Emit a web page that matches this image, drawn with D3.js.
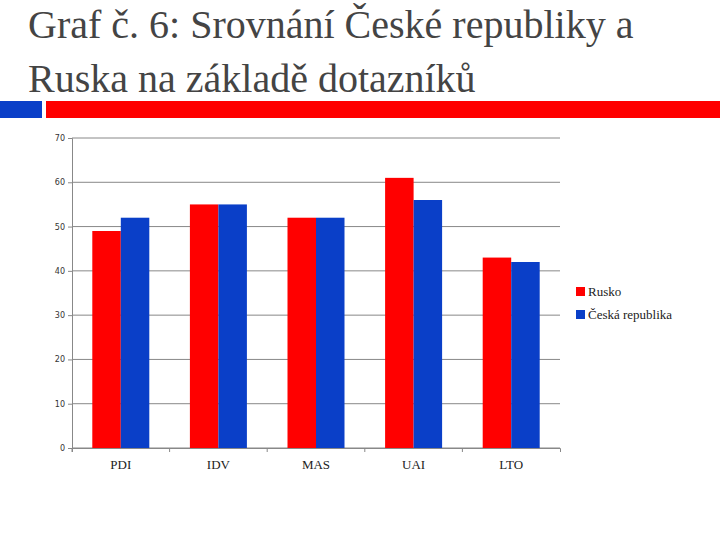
<!DOCTYPE html>
<html><head><meta charset="utf-8">
<script src="https://cdn.jsdelivr.net/npm/d3@7"></script>
<style>body{margin:0;background:#fff}</style>
</head><body>
<svg id="c" width="720" height="540"></svg>
<script>
// data
const categories = ['PDI', 'IDV', 'MAS', 'UAI', 'LTO'];
const rusko = [49, 55, 52, 61, 43];
const cesko = [52, 55, 52, 56, 42];
const series = [
  {name: 'Rusko', values: rusko, color: '#ff0000'},
  {name: 'Česká republika', values: cesko, color: '#0a3fc8'}
];
const yTicks = [0, 10, 20, 30, 40, 50, 60, 70];

const svg = d3.select('#c');

// title
svg.append('text').attr('x', 28).attr('y', 38)
  .attr('font-family', 'Liberation Serif').attr('font-size', 40).attr('fill', '#444')
  .text('Graf č. 6: Srovnání České republiky a');
svg.append('text').attr('x', 28).attr('y', 92)
  .attr('font-family', 'Liberation Serif').attr('font-size', 40).attr('fill', '#444')
  .text('Ruska na základě dotazníků');

// decorative bars
svg.append('rect').attr('x', 0).attr('y', 101).attr('width', 42).attr('height', 17).attr('fill', '#0a3fc8');
svg.append('rect').attr('x', 46).attr('y', 101).attr('width', 674).attr('height', 17).attr('fill', '#ff0000');

const x = d3.scaleBand().domain(categories).range([72, 560]);
const y = d3.scaleLinear().domain([0, 70]).range([448, 138]);

// grid
svg.append('g').selectAll('line').data(yTicks).join('line')
  .attr('x1', 72).attr('x2', 560)
  .attr('y1', d => y(d)).attr('y2', d => y(d))
  .attr('stroke', '#888').attr('stroke-width', 1);

// y axis
const ya = svg.append('g').attr('transform', 'translate(72,0)')
  .call(d3.axisLeft(y).tickValues(yTicks).tickSize(4).tickPadding(3));
ya.select('.domain').attr('stroke', '#888');
ya.selectAll('.tick line').attr('stroke', '#888');
ya.selectAll('text').attr('font-family', 'DejaVu Sans').attr('font-size', 8).attr('fill', '#333');

// bars
const bw = 28.5;
const off = x.bandwidth() / 2 - bw;
series.forEach((s, si) => {
  svg.append('g').selectAll('rect').data(s.values).join('rect')
    .attr('x', (d, i) => x(categories[i]) + off + si * bw)
    .attr('y', d => y(d))
    .attr('width', bw)
    .attr('height', d => y(0) - y(d))
    .attr('fill', s.color);
});

// x axis
const xa = svg.append('g').attr('transform', 'translate(0,448)')
  .call(d3.axisBottom(x).tickSize(4).tickPadding(8));
xa.select('.domain').attr('stroke', '#888');
xa.selectAll('.tick line').attr('stroke', '#888').attr('transform', d => `translate(${-x.bandwidth()/2},0)`);
xa.selectAll('text').attr('font-family', 'Liberation Serif').attr('font-size', 13).attr('fill', '#222');

// legend
const lg = svg.append('g').selectAll('g').data(series).join('g')
  .attr('transform', (d, i) => `translate(576,${292 + i * 23})`);
lg.append('rect').attr('x', 0).attr('y', -5).attr('width', 9).attr('height', 9).attr('fill', d => d.color);
lg.append('text').attr('x', 12).attr('y', 4)
  .attr('font-family', 'Liberation Serif').attr('font-size', 13).attr('fill', '#222')
  .text(d => d.name);
</script>
</body></html>
